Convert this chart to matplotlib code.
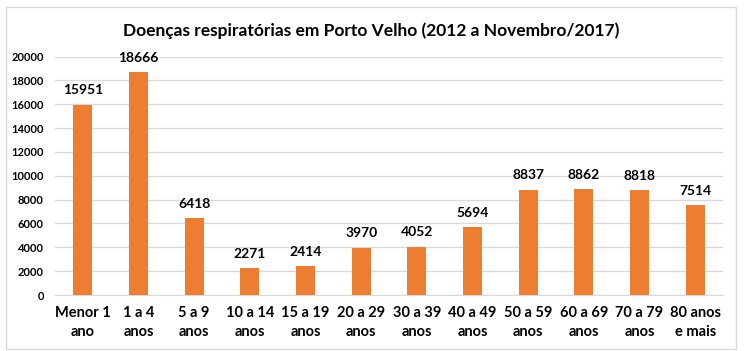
import matplotlib
matplotlib.use("Agg")
import matplotlib.pyplot as plt
from matplotlib.patches import Rectangle

categories = ["Menor 1\nano", "1 a 4\nanos", "5 a 9\nanos", "10 a 14\nanos", "15 a 19\nanos",
              "20 a 29\nanos", "30 a 39\nanos", "40 a 49\nanos", "50 a 59\nanos", "60 a 69\nanos",
              "70 a 79\nanos", "80 anos\ne mais"]
values = [15951, 18666, 6418, 2271, 2414, 3970, 4052, 5694, 8837, 8862, 8818, 7514]
yticks = list(range(0, 20001, 2000))
title = "Doenças respiratórias em Porto Velho (2012 a Novembro/2017)"

W, H = 744, 351
plt.rcParams['font.family'] = ['Lato', 'DejaVu Sans']
fig = plt.figure(figsize=(W / 100, H / 100), dpi=100)
fig.patch.set_facecolor("white")

# chart border
fig.patches.append(Rectangle((6 / W, 1 - 349 / H), 730 / W, 342 / H, transform=fig.transFigure,
                             fill=False, edgecolor="#D9D9D9", linewidth=1))

left, right, top, bottom = 55, 723, 56.5, 295
ax = fig.add_axes([left / W, 1 - bottom / H, (right - left) / W, (bottom - top) / H])
x = range(len(categories))
ax.bar(x, values, width=0.34, color="#ED7D31", zorder=3)
ax.set_xlim(-0.5, len(categories) - 0.5)
ax.set_ylim(0, 20000)
ax.set_yticks(yticks)
ax.set_yticklabels([str(t) for t in yticks], fontsize=8, fontweight="bold", color="#000000")
ax.set_xticks(list(x))
ax.set_xticklabels(categories, fontsize=10.5, fontweight="bold", color="#000000", linespacing=1.45)
ax.tick_params(axis="both", length=0)
ax.tick_params(axis="y", pad=8)
ax.tick_params(axis="x", pad=8)
ax.grid(axis="y", color="#D9D9D9", linewidth=1, zorder=0)
for s in ["top", "right", "left"]:
    ax.spines[s].set_visible(False)
ax.spines["bottom"].set_color("#D9D9D9")
ax.set_facecolor("white")

for xi, v in zip(x, values):
    ax.annotate(str(v), (xi, v), xytext=(0, 6), textcoords="offset points",
                ha="center", va="bottom", fontsize=10, fontweight="bold", color="#000000")

fig.text(371 / W, 1 - 31 / H, title, ha="center", va="center", fontsize=12.5, fontweight="bold",
         color="#000000")

fig.savefig("out.png", dpi=100)
